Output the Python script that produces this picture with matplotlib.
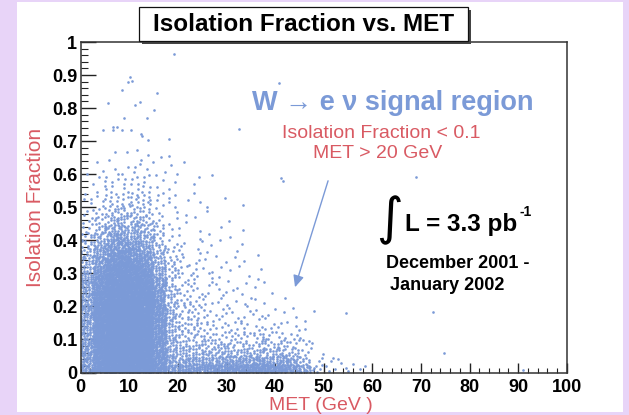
import numpy as np
import matplotlib
matplotlib.use("Agg")
import matplotlib.pyplot as plt
from matplotlib.patches import Rectangle, FancyArrowPatch
from matplotlib import font_manager

# ---- data: event counts per (MET, isolation) cell ----
# Fine cells over the populated core: MET 0-50 GeV in 2.5 GeV steps,
# isolation 0-0.5 in 0.025 steps (rows listed from the top down).
fine_met_lo = np.arange(0, 50, 2.5)
fine_met_width = 2.5
fine_iso_lo = np.round(np.arange(0.475, -0.001, -0.025), 3)
fine_iso_width = 0.025
fine_counts = [
    # 0  2.5  5  7.5 10 12.5 15 17.5 20 22.5 25 27.5 30 32.5 35 37.5 40 42.5 45 47.5
    [2,  4,  7,  8,  7,  5,  2,  1,  1,  0,  1,  0,  0,  0,  0,  0,  0,  0,  0,  0],
    [3,  6, 10, 11, 10,  7,  3,  1,  1,  1,  0,  0,  1,  0,  0,  0,  0,  0,  0,  0],
    [4,  8, 14, 16, 14, 10,  5,  2,  1,  1,  0,  1,  0,  1,  0,  0,  0,  0,  0,  0],
    [6, 11, 19, 22, 19, 13,  6,  2,  1,  1,  1,  0,  1,  0,  0,  0,  0,  0,  0,  0],
    [8, 15, 26, 29, 26, 18,  8,  3,  2,  1,  1,  1,  0,  1,  0,  0,  0,  0,  0,  0],
    [10, 20, 34, 38, 34, 24, 10, 4,  2,  2,  1,  1,  1,  0,  1,  0,  0,  0,  0,  0],
    [12, 26, 42, 46, 42, 30, 13, 5,  3,  2,  1,  1,  1,  1,  0,  0,  0,  0,  0,  0],
    [14, 32, 50, 54, 50, 38, 17, 6,  3,  2,  2,  1,  1,  1,  1,  0,  0,  0,  0,  0],
    [16, 38, 58, 62, 58, 46, 22, 7,  3,  3,  2,  1,  1,  1,  1,  0,  0,  0,  0,  0],
    [18, 44, 64, 68, 64, 54, 26, 8,  4,  3,  2,  2,  1,  1,  1,  1,  0,  0,  0,  0],
    [19, 48, 68, 72, 68, 60, 30, 9,  4,  3,  2,  2,  1,  1,  1,  1,  0,  0,  0,  0],
    [20, 52, 72, 76, 72, 64, 34, 10, 5,  4,  3,  2,  2,  1,  1,  1,  1,  0,  0,  0],
    [21, 55, 75, 80, 75, 66, 36, 11, 5,  4,  3,  2,  2,  2,  2,  1,  1,  1,  0,  1],
    [22, 56, 76, 80, 76, 68, 38, 12, 6,  5,  3,  3,  2,  2,  2,  2,  1,  1,  1,  0],
    [22, 56, 76, 80, 76, 68, 38, 12, 7,  6,  4,  3,  3,  3,  3,  3,  2,  2,  1,  0],
    [22, 56, 76, 80, 76, 68, 38, 12, 7,  6,  5,  5,  5,  5,  5,  5,  4,  3,  1,  0],
    [22, 56, 76, 80, 76, 68, 38, 13, 9,  8,  8,  8,  7,  7,  7,  7,  7,  5,  3,  1],
    [23, 56, 76, 80, 76, 68, 40, 15, 12, 11, 11, 11, 11, 11, 11, 11, 11, 8,  4,  1],
    [23, 56, 76, 80, 76, 68, 42, 19, 18, 18, 19, 20, 20, 21, 22, 22, 20, 16, 8,  2],
    [25, 56, 76, 80, 76, 68, 46, 27, 30, 30, 32, 34, 38, 40, 42, 42, 38, 30, 18, 6],
]

# Band just above the core: MET 0-50 GeV in 5 GeV steps, isolation 0.5-0.65.
band_met_lo = np.arange(0, 50, 5)
band_met_width = 5.0
band_iso_lo = [0.60, 0.55, 0.50]
band_iso_width = 0.05
band_counts = [
    # 0  5  10 15 20 25 30 35 40 45
    [2,  4,  6, 3, 1, 0, 0, 0, 0, 0],
    [4, 10, 10, 5, 2, 1, 0, 0, 0, 0],
    [8, 18, 20, 8, 3, 2, 1, 0, 0, 0],
]

# Isolated events (MET [GeV], isolation fraction)
outlier_met = [19.3, 10.1, 9.8, 10.6, 8.6, 40.7, 15.8, 5.7, 11.2, 12.3,
               15.1, 8.9, 13.6, 4.5, 6.6, 6.7, 7.4, 8.6, 10.4, 32.6,
               12.5, 12.7, 18.2, 13.8, 7.1, 9.5, 11.6, 13.9, 16.5, 18.2,
               41.3, 41.6, 69.0, 54.6, 72.4, 74.8, 91.0,
               50.5, 51.5, 52.4, 53.5, 54.5, 56.0, 57.5, 52.0, 55.0, 58.5, 51.0, 53.0]
outlier_iso = [0.964, 0.895, 0.880, 0.883, 0.855, 0.875, 0.845, 0.815, 0.810, 0.817,
               0.793, 0.769, 0.769, 0.733, 0.743, 0.733, 0.743, 0.733, 0.733, 0.736,
               0.723, 0.715, 0.707, 0.703, 0.668, 0.668, 0.673, 0.658, 0.653, 0.655,
               0.590, 0.580, 0.592, 0.179, 0.182, 0.058, 0.007,
               0.020, 0.035, 0.010, 0.030, 0.015, 0.025, 0.010, 0.045, 0.005, 0.020, 0.005, 0.040]

x_ticks = [0, 10, 20, 30, 40, 50, 60, 70, 80, 90, 100]
x_tick_labels = ["0", "10", "20", "30", "40", "50", "60", "70", "80", "90", "100"]
y_ticks = [0, 0.1, 0.2, 0.3, 0.4, 0.5, 0.6, 0.7, 0.8, 0.9, 1.0]
y_tick_labels = ["0", "0.1", "0.2", "0.3", "0.4", "0.5", "0.6", "0.7", "0.8", "0.9", "1"]

arrow_tail = (50.9, 0.58)
arrow_head = (44.1, 0.258)

# ---- spread each cell's events evenly over the cell (scatter-style 2D histogram) ----
G = 1.32471795724474602596
A1, A2 = 1.0 / G, 1.0 / G ** 2


def fill_cells(counts, x_lo, x_w, y_lo, y_w, start):
    xs, ys = [], []
    k = start
    for row, y0 in zip(counts, y_lo):
        for n, x0 in zip(row, x_lo):
            if n == 0:
                continue
            idx = np.arange(k, k + n)
            xs.append(x0 + x_w * ((0.5 + A1 * idx) % 1.0))
            ys.append(y0 + y_w * ((0.5 + A2 * idx) % 1.0))
            k += n
    return np.concatenate(xs), np.concatenate(ys), k


fx1, fy1, k_next = fill_cells(fine_counts, fine_met_lo, fine_met_width,
                              fine_iso_lo, fine_iso_width, 0)
bx1, by1, _ = fill_cells(band_counts, band_met_lo, band_met_width,
                         band_iso_lo, band_iso_width, k_next)
xs = np.concatenate([fx1, bx1, outlier_met])
ys = np.concatenate([fy1, by1, outlier_iso])

# ---- styling ----
W, H = 629, 415
avail = {f.name for f in font_manager.fontManager.ttflist}
SANS = "Liberation Sans" if "Liberation Sans" in avail else "DejaVu Sans"
plt.rcParams["font.family"] = [SANS, "DejaVu Sans"]

BLUE = "#7b9ad7"
RED = "#d95a63"
LAVENDER = "#e8d4f8"


def fx(px):
    return px / W


def fy(py):
    return 1.0 - py / H


fig = plt.figure(figsize=(W / 100, H / 100), dpi=100, facecolor=LAVENDER)
fig.patches.append(Rectangle((fx(17), fy(412)), fx(623) - fx(17), fy(2) - fy(412),
                             transform=fig.transFigure, facecolor="white",
                             edgecolor="none", zorder=-10))

ax = fig.add_axes([fx(80.7), fy(372.5), fx(566.7) - fx(80.7), fy(42) - fy(372.5)])
ax.set_zorder(1)
ax.patch.set_facecolor("white")
ax.scatter(xs, ys, s=3.6, marker="o", color=BLUE, linewidths=0, zorder=2)

ax.set_xlim(0, 100)
ax.set_ylim(0, 1)
ax.set_xticks(x_ticks)
ax.set_xticklabels(x_tick_labels)
ax.set_yticks(y_ticks)
ax.set_yticklabels(y_tick_labels)
ax.set_xticks(np.arange(0, 101, 2), minor=True)
ax.set_yticks(np.arange(0, 1.001, 0.02), minor=True)
ax.tick_params(axis="x", which="major", direction="in", length=7.2, width=1.0,
               color="#222222", pad=5, labelsize=13)
ax.tick_params(axis="x", which="minor", direction="in", length=3.6, width=0.8,
               color="#222222")
ax.tick_params(axis="y", which="major", direction="in", length=10.5, width=1.0,
               color="#222222", pad=2.5, labelsize=13)
ax.tick_params(axis="y", which="minor", direction="in", length=5.2, width=0.8,
               color="#222222")
for lab in ax.get_xticklabels() + ax.get_yticklabels():
    lab.set_fontweight("bold")
for sp in ax.spines.values():
    sp.set_color("#333333")
    sp.set_linewidth(1.1)

# axis titles
fig.text(fx(36), fy(207), "Isolation Fraction", rotation=90, color=RED,
         fontsize=15, ha="center", va="center")
fig.text(fx(321), fy(405), "MET (GeV )", color=RED, fontsize=14,
         ha="center", va="center")

# title box with shadow
fig.patches.append(Rectangle((fx(142), fy(44)), fx(471) - fx(142), fy(10) - fy(44),
                             transform=fig.transFigure, facecolor="#444444",
                             edgecolor="none", zorder=3))
fig.patches.append(Rectangle((fx(139), fy(41)), fx(468) - fx(139), fy(7) - fy(41),
                             transform=fig.transFigure, facecolor="white",
                             edgecolor="#111111", linewidth=0.9, zorder=4))
fig.text(fx(304), fy(24.5), "Isolation Fraction vs. MET",
         fontsize=17.5, fontweight="bold", ha="center", va="center", zorder=5)

# annotations
fig.text(fx(393), fy(103), "W \u2192 e \u03bd signal region", color=BLUE,
         fontsize=19.5, fontweight="bold", ha="center", va="center", zorder=5)
fig.text(fx(381), fy(133), "Isolation Fraction < 0.1", color=RED,
         fontsize=14, ha="center", va="center", zorder=5)
fig.text(fx(378), fy(153), "MET > 20 GeV", color=RED,
         fontsize=14, ha="center", va="center", zorder=5)

arrow = FancyArrowPatch(arrow_tail, arrow_head, arrowstyle="-|>,head_length=7,head_width=3.2",
                        color=BLUE, linewidth=1.0, shrinkA=0, shrinkB=0, zorder=3)
ax.add_patch(arrow)

fig.text(fx(389), fy(220), "\u222b", family=["DejaVu Sans"], fontsize=37,
         ha="center", va="center", zorder=5)
fig.text(fx(405), fy(224), "L = 3.3 pb", fontsize=17.5, fontweight="bold",
         ha="left", va="center", zorder=5)
fig.text(fx(519), fy(212), "-1", fontsize=10, fontweight="bold",
         ha="left", va="center", zorder=5)
fig.text(fx(386), fy(263), "December 2001 -", fontsize=13, fontweight="bold",
         ha="left", va="center", zorder=5)
fig.text(fx(390), fy(285), "January 2002", fontsize=13, fontweight="bold",
         ha="left", va="center", zorder=5)

fig.savefig("out.png", dpi=100, facecolor=LAVENDER)
